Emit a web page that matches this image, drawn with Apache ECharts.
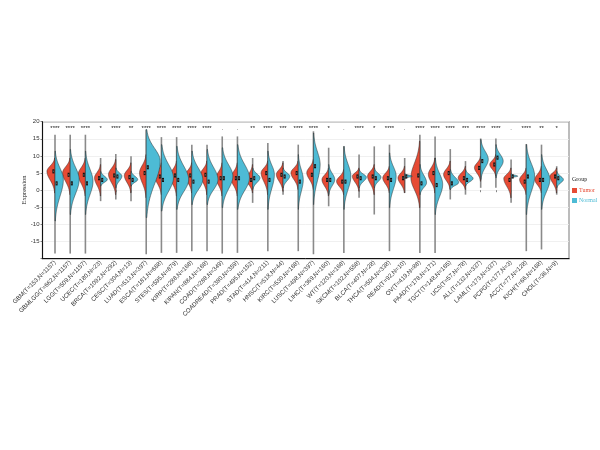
<!DOCTYPE html>
<html><head><meta charset="utf-8">
<script src="https://cdn.jsdelivr.net/npm/echarts@6/dist/echarts.min.js"></script>
<style>html,body{margin:0;padding:0;background:#fff}#c{width:600px;height:450px}</style>
</head><body><div id="c"></div>
<script>
const categories = ["GBM(T=153,N=1157)","GBMLGG(T=662,N=1157)","LGG(T=509,N=1157)","UCEC(T=180,N=23)","BRCA(T=1092,N=292)","CESC(T=304,N=13)","LUAD(T=513,N=397)","ESCA(T=181,N=668)","STES(T=595,N=879)","KIRP(T=288,N=168)","KIPAN(T=884,N=168)","COAD(T=288,N=349)","COADREAD(T=380,N=359)","PRAD(T=495,N=152)","STAD(T=414,N=211)","HNSC(T=518,N=44)","KIRC(T=530,N=168)","LUSC(T=498,N=397)","LIHC(T=369,N=160)","WT(T=120,N=168)","SKCM(T=102,N=558)","BLCA(T=407,N=28)","THCA(T=504,N=338)","READ(T=92,N=10)","OV(T=419,N=88)","PAAD(T=178,N=171)","TGCT(T=148,N=165)","UCS(T=57,N=78)","ALL(T=132,N=337)","LAML(T=173,N=337)","PCPG(T=177,N=3)","ACC(T=77,N=128)","KICH(T=66,N=168)","CHOL(T=36,N=9)"];
const sig = ["****","****","****","*","****","**","****","****","****","****","****",".",".","**","****","***","****","****","*",".","****","*","****",".","****","****","****","***","****","****",".","****","**","*"];
const rangeMin = [-18.5,-18.5,-18.5,-3.2,-2.7,-3.2,-18.7,-18.3,-18.3,-17.8,-17.8,-18.5,-18.3,-3.7,-17.8,-1.3,-17.8,-18.7,-4.7,-18.3,-2.2,-7.1,-17.8,-0.8,-18.3,-18.3,-2.7,-1.3,0.7,0.7,-3.7,-17.8,-17.3,-1.3];
const rangeMax = [16.2,16.2,16.2,9.4,10.6,9.9,17.7,15.5,15.5,13.3,13.3,15.7,15.7,9.4,13.8,8.5,13.3,17.2,12.4,12.8,10.4,12.8,13.3,9.4,16.2,15.7,12.0,8.5,15.1,15.1,9.0,13.5,13.3,7.0];
const tumorBot  = [-0.8,-1.3,-1.7,-1.7,-1.3,-0.8,-2.2,-1.3,-1.7,-0.8,-1.3,-1.7,-1.7,-0.8,-1.3,-0.3,0.2,0.2,-1.7,-1.3,-0.3,-1.3,-0.8,-0.8,-5.1,-0.8,0.2,0.2,2.6,4.1,-2.2,-1.3,-0.8,-0.8];
const tumorMode = [5.5,5.1,4.6,3.6,4.6,4.3,5.1,4.1,4.3,4.3,4.6,3.6,3.6,3.1,5.1,4.6,5.1,5.1,3.1,2.6,4.1,4.1,3.6,3.6,3.6,4.6,4.6,3.6,6.6,7.5,3.4,3.1,3.1,4.1];
const tumorTop  = [9.4,9.4,9.4,7.5,9.0,8.0,10.4,8.0,8.5,8.0,8.5,8.0,8.0,7.5,8.5,8.0,8.5,9.0,6.5,6.0,6.5,7.5,7.0,7.0,14.3,9.4,8.5,7.0,9.9,10.4,6.5,6.5,7.0,6.5];
const tumorDens = [0.53,0.5,0.48,0.4,0.48,0.44,0.44,0.44,0.44,0.44,0.44,0.41,0.44,0.4,0.44,0.44,0.48,0.44,0.44,0.48,0.44,0.44,0.44,0.44,0.59,0.44,0.44,0.48,0.41,0.4,0.48,0.44,0.44,0.44];
const normalBot  = [-9.0,-7.1,-7.1,1.2,0.7,1.2,-8.0,-6.1,-5.6,-4.2,-4.2,-5.1,-5.6,0.2,-5.6,0.7,-5.6,-4.2,-1.3,-5.6,0.7,0.7,-5.1,3.4,-1.3,-7.1,0.2,1.2,3.1,3.6,3.6,-7.1,-5.6,0.7];
const normalMode = [3.1,3.1,2.6,3.1,4.1,3.1,8.5,3.6,3.1,3.1,3.1,4.1,3.6,3.6,4.6,4.1,3.1,7.5,3.1,4.1,3.8,3.8,4.1,4.1,2.2,1.7,2.2,3.4,9.0,8.5,4.1,4.1,3.1,3.1];
const normalTop  = [11.4,11.9,11.4,5.5,6.5,5.5,17.7,13.3,12.8,11.4,11.9,12.4,13.3,6.5,11.4,6.5,10.4,16.7,7.5,12.8,6.0,6.5,10.9,4.8,7.5,9.4,6.0,6.0,14.8,13.3,4.8,13.3,10.4,5.5];
const normalDens = [0.55,0.59,0.5,0.44,0.4,0.44,0.92,0.79,0.79,0.72,0.72,0.7,0.79,0.48,0.43,0.44,0.33,0.44,0.4,0.46,0.48,0.44,0.44,0.5,0.44,0.5,0.55,0.5,0.5,0.48,0.44,0.55,0.55,0.44];
const tumorMed  = [5.5,4.5,4.5,3.5,4.3,3.8,5.0,4.0,4.3,4.3,4.5,3.5,3.5,3.0,5.0,4.5,5.0,4.5,3.0,2.5,4.0,4.0,3.5,3.5,4.3,5.0,5.0,3.5,6.5,7.5,3.0,2.5,3.0,4.0];
const normalMed = [2.0,2.0,2.0,3.0,4.0,3.0,6.7,3.0,3.0,2.5,2.5,3.5,3.5,3.5,3.0,4.0,2.5,7.0,3.0,2.5,3.5,3.5,3.0,4.0,2.0,1.5,2.0,3.0,8.5,9.5,4.0,4.0,3.0,3.5];
const yTicks = [-20,-15,-10,-5,0,5,10,15,20];
const sigLevel = 18.2;
const groups = ['Tumor','Normal'];

const TUMOR = '#E64B35', NORMAL = '#4DBBD5';
const SERIF = 'Liberation Serif, Times New Roman, serif';
const SANS = 'Liberation Sans, Arial, sans-serif';
const idx = categories.map((c,i)=>[i,0]);

function halfViolin(side, bot, mode, top, dens, color){
  return function(params, api){
    const i = params.dataIndex;
    const b = bot[i], m = mode[i], t = top[i];
    const c = api.coord([i, m]);
    const band = api.size([1,0])[0];
    const w = dens[i]*band;
    const sU = Math.max((t-m)/2.5, 0.05), sL = Math.max((m-b)/2.5, 0.05);
    const pts = [];
    const n = 60;
    for(let k=0;k<=n;k++){
      const y = b + (t-b)*k/n;
      const s = y>m ? sU : sL;
      const d = Math.exp(-0.5*Math.pow((y-m)/s,2));
      const p = api.coord([i,y]);
      pts.push([c[0]+side*w*d, p[1]]);
    }
    pts.push([c[0], api.coord([i,t])[1]]);
    pts.push([c[0], api.coord([i,b])[1]]);
    return {type:'polygon', shape:{points:pts}, style:{fill:color, stroke:'#2a2a2a', lineWidth:0.5}};
  };
}

const option = {
  animation:false,
  backgroundColor:'#fff',
  grid:[
    {left:47.4, right:35.7, top:121.7, height:137, containLabel:false},
    {left:42.5, right:31, top:121.7, height:137, show:true, borderColor:'#a0a0a0', borderWidth:1.4, backgroundColor:'transparent'}
  ],
  xAxis:[
    {type:'category', gridIndex:0, data:categories, boundaryGap:true,
     axisLine:{show:false}, axisTick:{show:true, alignWithLabel:true, length:2, lineStyle:{color:'#333', width:0.6}},
     axisLabel:{rotate:45, interval:0, fontSize:6.1, margin:3, color:'#333', fontFamily:SANS},
     splitLine:{show:false}},
    {type:'value', gridIndex:1, min:0, max:1, axisLine:{show:true, onZero:false, lineStyle:{color:'#111', width:1}},
     axisTick:{show:false}, axisLabel:{show:false}, splitLine:{show:false}}
  ],
  yAxis:[
    {type:'value', gridIndex:0, min:-20, max:20, interval:5, show:false, splitLine:{show:false}},
    {type:'value', gridIndex:1, min:-20, max:20, interval:5,
     axisLine:{show:true, onZero:false, lineStyle:{color:'#111', width:1}},
     axisTick:{show:true, length:2, lineStyle:{color:'#333', width:0.6}},
     axisLabel:{fontSize:6, color:'#333', margin:3, fontFamily:SANS,
       formatter:function(v){ return (v===-20 || yTicks.indexOf(v)<0) ? '' : String(v); }},
     splitLine:{show:true, lineStyle:{color:'#ececec', width:0.8}}}
  ],
  graphic:[
    {type:'text', x:24, y:190, rotation:Math.PI/2, style:{text:'Expression', fontSize:6.5, fill:'#222', fontFamily:SERIF, align:'center', verticalAlign:'middle'}},
    {type:'text', left:572, top:176, style:{text:'Group', fontSize:6, fill:'#222', fontFamily:SERIF}},
    {type:'rect', left:572, top:188, shape:{width:5, height:5}, style:{fill:TUMOR}},
    {type:'text', left:579, top:187.5, style:{text:groups[0], fontSize:6, fill:TUMOR, fontFamily:SERIF}},
    {type:'rect', left:572, top:198, shape:{width:5, height:5}, style:{fill:NORMAL}},
    {type:'text', left:579, top:197.5, style:{text:groups[1], fontSize:6, fill:NORMAL, fontFamily:SERIF}}
  ],
  series:[
    {type:'custom', name:'range', xAxisIndex:0, yAxisIndex:0, data:idx, silent:true, z:1,
     renderItem:function(params, api){
       const i = params.dataIndex;
       const a = api.coord([i, rangeMin[i]]), b = api.coord([i, rangeMax[i]]);
       return {type:'line', shape:{x1:a[0], y1:a[1], x2:b[0], y2:b[1]}, style:{stroke:'#8a8a8a', lineWidth:1.6}};
     }},
    {type:'custom', name:groups[0], xAxisIndex:0, yAxisIndex:0, data:idx, z:2, itemStyle:{color:TUMOR},
     renderItem:halfViolin(-1, tumorBot, tumorMode, tumorTop, tumorDens, TUMOR)},
    {type:'custom', name:groups[1], xAxisIndex:0, yAxisIndex:0, data:idx, z:2, itemStyle:{color:NORMAL},
     renderItem:halfViolin(1, normalBot, normalMode, normalTop, normalDens, NORMAL)},
    {type:'custom', name:'marks', xAxisIndex:0, yAxisIndex:0, data:idx, silent:true, z:3,
     renderItem:function(params, api){
       const i = params.dataIndex;
       const kids = [];
       [[tumorMed,-1.6],[normalMed,1.6]].forEach(function(pair){
         const med = pair[0][i];
         const top = api.coord([i, med+0.6]), bot = api.coord([i, med-0.6]);
         const x = top[0]+pair[1];
         kids.push({type:'rect', shape:{x:x-1, y:top[1], width:2, height:bot[1]-top[1]}, style:{fill:'#111'}});
         kids.push({type:'rect', shape:{x:x-0.6, y:top[1]+1.2, width:1.2, height:bot[1]-top[1]-2.4}, style:{fill:'#555'}});
       });
       return {type:'group', children:kids};
     }},
    {type:'custom', name:'sig', xAxisIndex:0, yAxisIndex:0, data:idx, silent:true, z:3,
     renderItem:function(params, api){
       const i = params.dataIndex;
       const p = api.coord([i, sigLevel]);
       return {type:'text', style:{text:sig[i], x:p[0], y:p[1], align:'center', verticalAlign:'middle', fontSize:6, fill:'#111', fontFamily:SANS}};
     }}
  ]
};
const chart = echarts.init(document.getElementById('c'), null, {renderer:'canvas'});
chart.setOption(option);
</script></body></html>
